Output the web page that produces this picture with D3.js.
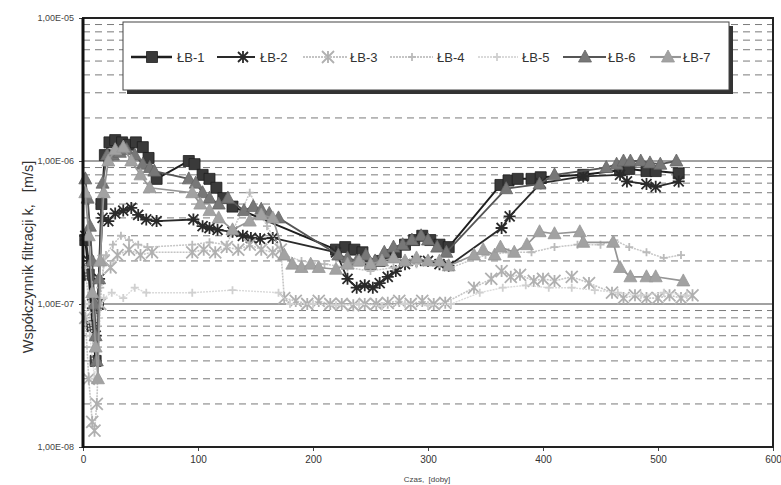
<!DOCTYPE html>
<html><head><meta charset="utf-8">
<script src="https://cdn.jsdelivr.net/npm/d3@7"></script>
<style>body{margin:0;background:#fff}svg{display:block}</style>
</head><body>
<svg id="c" width="781" height="485"></svg>
<script>
// ---- data ----
const xTicks = [0, 100, 200, 300, 400, 500, 600];
const yTicks = [1e-8, 1e-7, 1e-6, 1e-5];
const yTickLabels = ["1,00E-08", "1,00E-07", "1,00E-06", "1,00E-05"];
const seriesNames = ["ŁB-1", "ŁB-2", "ŁB-3", "ŁB-4", "ŁB-5", "ŁB-6", "ŁB-7"];

const LB1 = [[2,2.8e-7],[5,1.6e-7],[8,7e-8],[11,4e-8],[13,1e-7],[16,5e-7],[19,1.1e-6],[23,1.35e-6],[28,1.4e-6],[34,1.35e-6],[40,1.3e-6],[46,1.35e-6],[52,1.25e-6],[57,1.05e-6],[64,7.5e-7],[92,1.0e-6],[97,9.5e-7],[104,8e-7],[110,7.5e-7],[116,6.5e-7],[122,5.5e-7],[130,4.8e-7],[220,2.4e-7],[228,2.5e-7],[236,2.4e-7],[243,2.3e-7],[250,1.9e-7],[258,2.0e-7],[265,2.2e-7],[272,2.3e-7],[280,2.6e-7],[288,2.8e-7],[295,3.0e-7],[302,2.8e-7],[310,2.6e-7],[318,2.5e-7],[363,6.8e-7],[370,7.3e-7],[378,7.5e-7],[390,7.5e-7],[398,7.7e-7],[435,8.0e-7],[467,8.6e-7],[475,8.8e-7],[490,8.5e-7],[498,8.5e-7],[518,8.2e-7]];
const LB2 = [[2,3e-7],[5,2e-7],[8,1e-7],[11,6e-8],[14,1.5e-7],[17,4e-7],[22,3.8e-7],[28,4.3e-7],[35,4.5e-7],[42,4.7e-7],[48,4.2e-7],[55,3.9e-7],[64,3.8e-7],[96,3.9e-7],[104,3.5e-7],[110,3.4e-7],[117,3.3e-7],[130,3.2e-7],[139,3.0e-7],[146,2.9e-7],[154,2.85e-7],[165,2.9e-7],[220,2.3e-7],[230,1.5e-7],[238,1.3e-7],[245,1.35e-7],[252,1.3e-7],[258,1.4e-7],[265,1.55e-7],[272,1.7e-7],[280,1.9e-7],[290,2.0e-7],[300,2.0e-7],[310,1.9e-7],[318,1.85e-7],[364,3.4e-7],[371,4.1e-7],[398,7.0e-7],[435,7.8e-7],[467,8.0e-7],[473,7.2e-7],[490,6.9e-7],[498,6.6e-7],[518,7.2e-7]];
const LB3 = [[2,8e-8],[5,3e-8],[8,1.5e-8],[10,1.3e-8],[12,2e-8],[15,1e-7],[18,2e-7],[24,1.8e-7],[30,2.2e-7],[40,2.4e-7],[50,2.2e-7],[60,2.3e-7],[95,2.3e-7],[105,2.4e-7],[115,2.3e-7],[125,2.5e-7],[135,2.4e-7],[145,2.6e-7],[155,2.4e-7],[165,2.3e-7],[172,2.4e-7],[175,1.1e-7],[185,1.05e-7],[195,1.0e-7],[205,1.05e-7],[215,1.0e-7],[225,1.0e-7],[235,9.8e-8],[245,1.0e-7],[255,1.0e-7],[265,1.02e-7],[275,1.05e-7],[285,1.0e-7],[295,1.05e-7],[305,1.0e-7],[315,1.02e-7],[340,1.3e-7],[355,1.5e-7],[364,1.7e-7],[372,1.55e-7],[380,1.6e-7],[392,1.45e-7],[400,1.5e-7],[410,1.45e-7],[425,1.55e-7],[440,1.4e-7],[460,1.2e-7],[470,1.1e-7],[480,1.15e-7],[490,1.1e-7],[500,1.1e-7],[510,1.15e-7],[520,1.1e-7],[530,1.15e-7]];
const LB4 = [[2,1.8e-7],[5,1e-7],[9,5e-8],[12,8e-8],[15,1.3e-7],[20,2.2e-7],[26,2.6e-7],[33,3e-7],[40,2.8e-7],[48,2.6e-7],[56,2.5e-7],[95,2.6e-7],[110,2.7e-7],[125,2.6e-7],[145,6e-7],[160,3.5e-7],[175,2.2e-7],[190,2.0e-7],[210,1.9e-7],[230,1.8e-7],[250,1.7e-7],[270,1.8e-7],[290,1.9e-7],[310,1.9e-7],[320,1.8e-7],[350,2.2e-7],[370,2.3e-7],[390,2.3e-7],[410,2.5e-7],[430,2.6e-7],[450,2.6e-7],[462,2.8e-7],[475,2.5e-7],[490,2.3e-7],[505,2.1e-7],[520,2.2e-7]];
const LB5 = [[2,1e-7],[6,6e-8],[10,3e-8],[14,8e-8],[18,1.1e-7],[25,1.2e-7],[35,1.1e-7],[45,1.3e-7],[55,1.2e-7],[95,1.2e-7],[130,1.25e-7],[170,1.2e-7],[180,1.0e-7],[200,1.0e-7],[220,9.8e-8],[240,1.0e-7],[260,9.7e-8],[280,1.0e-7],[300,9.8e-8],[320,1.0e-7],[345,1.2e-7],[365,1.3e-7],[385,1.35e-7],[405,1.3e-7],[425,1.3e-7],[445,1.25e-7],[465,1.2e-7],[485,1.15e-7],[505,1.2e-7],[525,1.15e-7]];
const LB6 = [[2,7.5e-7],[4,5.5e-7],[6,3.5e-7],[8,2e-7],[10,1e-7],[11,6e-8],[12,4e-8],[14,1.5e-7],[17,7e-7],[21,1.1e-6],[26,1.1e-6],[32,1.15e-6],[38,1.2e-6],[45,1.1e-6],[52,9.5e-7],[58,9e-7],[62,8.5e-7],[92,7.5e-7],[98,7e-7],[104,6e-7],[110,5.5e-7],[118,5e-7],[126,5.5e-7],[140,4.5e-7],[148,4.8e-7],[155,4.6e-7],[162,4.3e-7],[170,4.0e-7],[222,2.2e-7],[230,2.1e-7],[238,2.0e-7],[246,2.2e-7],[254,2.0e-7],[262,2.3e-7],[270,2.5e-7],[278,2.6e-7],[286,2.8e-7],[294,3.0e-7],[300,2.8e-7],[308,2.5e-7],[316,2.3e-7],[368,6.4e-7],[397,6.9e-7],[410,8.0e-7],[455,9.0e-7],[464,9.5e-7],[470,1.0e-6],[476,1.0e-6],[485,1.0e-6],[493,9.7e-7],[502,9.5e-7],[516,1.0e-6]];
const LB7 = [[2,6e-7],[5,3e-7],[8,1.2e-7],[11,5e-8],[13,3e-8],[15,2e-7],[18,6e-7],[22,1.0e-6],[28,1.2e-6],[35,1.25e-6],[42,1.0e-6],[50,8e-7],[58,6.5e-7],[95,6e-7],[102,5e-7],[110,4.5e-7],[118,4e-7],[130,3.3e-7],[145,3.8e-7],[155,4.2e-7],[165,4.0e-7],[175,2.2e-7],[182,1.9e-7],[190,1.8e-7],[198,1.9e-7],[205,1.8e-7],[220,1.75e-7],[230,1.9e-7],[240,2.0e-7],[250,1.9e-7],[260,2.0e-7],[270,2.1e-7],[280,2.0e-7],[290,2.1e-7],[300,2.0e-7],[310,2.0e-7],[318,1.85e-7],[340,2.2e-7],[348,2.4e-7],[358,2.2e-7],[363,2.5e-7],[375,2.3e-7],[386,2.6e-7],[397,3.2e-7],[410,3.1e-7],[432,3.2e-7],[435,2.7e-7],[461,2.7e-7],[467,1.8e-7],[476,1.55e-7],[490,1.55e-7],[498,1.55e-7],[522,1.45e-7]];

// ---- layout & style ----
const X0 = 83, X1 = 773, Y0 = 447, Y1 = 18;
const svg = d3.select("#c");
const x = d3.scaleLinear().domain([0, 600]).range([X0, X1]);
const y = d3.scaleLog().domain([1e-8, 1e-5]).range([Y0, Y1]);
const font = "Liberation Sans, Arial, sans-serif";

const styles = [
  {line:"#1e1e1e", lw:2.0, fill:"#3a3a3a", stroke:"#1e1e1e", sym:"square", dash:null},
  {line:"#2a2a2a", lw:1.8, fill:"none", stroke:"#2a2a2a", sym:"aster", dash:null},
  {line:"#c4c4c4", lw:1.6, fill:"none", stroke:"#b0b0b0", sym:"x", dash:"2,1"},
  {line:"#c6c6c6", lw:1.5, fill:"none", stroke:"#bbbbbb", sym:"plus", dash:"2,1"},
  {line:"#dadada", lw:1.4, fill:"none", stroke:"#d0d0d0", sym:"plus", dash:"2,1"},
  {line:"#555555", lw:1.8, fill:"#777777", stroke:"#666666", sym:"tri", dash:null},
  {line:"#959595", lw:1.7, fill:"#a2a2a2", stroke:"#989898", sym:"tri", dash:null}
];
const seriesData = [LB1, LB2, LB3, LB4, LB5, LB6, LB7];

function symPath(type) {
  if (type === "square") return "M-5.5,-5.5H5.5V5.5H-5.5Z";
  if (type === "tri") return "M0,-7L6.5,5L-6.5,5Z";
  if (type === "aster") return "M-5,-5L5,5M-5,5L5,-5M0,-6V6M-6,0H6";
  if (type === "x") return "M-6,-6L6,6M-6,6L6,-6M0,-6V6";
  if (type === "plus") return "M-4,0H4M0,-4V4";
  return "";
}
function symStrokeW(type) { return (type === "square" || type === "tri") ? 0.8 : 1.8; }

// ---- grid ----
const grid = svg.append("g");
for (let e = -8; e < -5; e++) {
  for (let m = 2; m <= 9; m++) {
    const v = m * Math.pow(10, e);
    grid.append("line").attr("x1", X0).attr("x2", X1)
      .attr("y1", y(v)).attr("y2", y(v))
      .attr("stroke", "#7a7a7a").attr("stroke-width", 1)
      .attr("stroke-dasharray", "7,5");
  }
}
[1e-7, 1e-6].forEach(v => {
  grid.append("line").attr("x1", X0).attr("x2", X1)
    .attr("y1", y(v)).attr("y2", y(v))
    .attr("stroke", "#444").attr("stroke-width", 1);
});

// ---- axes ----
const yAxis = d3.axisLeft(y).tickValues(yTicks)
  .tickFormat((d, i) => yTickLabels[i]).tickSize(4);
const yg = svg.append("g").attr("transform", `translate(${X0},0)`).call(yAxis);
yg.select(".domain").remove();
yg.selectAll("text").attr("font-family", font).attr("font-size", 9).attr("fill", "#444").attr("dx", -2);
yg.selectAll("line").attr("stroke", "#444");

const xAxis = d3.axisBottom(x).tickValues(xTicks).tickSize(4).tickFormat(d3.format("d"));
const xg = svg.append("g").attr("transform", `translate(0,${Y0})`).call(xAxis);
xg.select(".domain").remove();
xg.selectAll("text").attr("font-family", font).attr("font-size", 10).attr("fill", "#333").attr("dy", "0.9em");
xg.selectAll("line").attr("stroke", "#444");

// ---- series ----
const lineGen = d3.line().x(d => x(d[0])).y(d => y(d[1]));
const plot = svg.append("g");
seriesData.forEach((data, i) => {
  const s = styles[i];
  const g = plot.append("g");
  g.append("path").attr("d", lineGen(data)).attr("fill", "none")
    .attr("stroke", s.line).attr("stroke-width", s.lw)
    .attr("stroke-dasharray", s.dash);
  g.selectAll("path.m").data(data).join("path").attr("class", "m")
    .attr("transform", d => `translate(${x(d[0])},${y(d[1])})`)
    .attr("d", symPath(s.sym))
    .attr("fill", s.fill).attr("stroke", s.stroke)
    .attr("stroke-width", symStrokeW(s.sym));
});

// ---- frame ----
svg.append("rect").attr("x", X0).attr("y", Y1).attr("width", X1 - X0).attr("height", Y0 - Y1)
  .attr("fill", "none").attr("stroke", "#222").attr("stroke-width", 2);
svg.append("line").attr("x1", X0).attr("x2", X0).attr("y1", Y1).attr("y2", Y0 + 1)
  .attr("stroke", "#111").attr("stroke-width", 3);

// ---- legend ----
const LX = 123, LY = 22, LW = 606, LH = 68;
svg.append("rect").attr("x", LX + 4).attr("y", LY + 4).attr("width", LW).attr("height", LH).attr("fill", "#333");
svg.append("rect").attr("x", LX).attr("y", LY).attr("width", LW).attr("height", LH)
  .attr("fill", "#fff").attr("stroke", "#444").attr("stroke-width", 1);
const legendPos = [
  {l0:131, l1:172, m:152, t:177},
  {l0:217, l1:255, m:243, t:260},
  {l0:303, l1:347, m:328, t:350},
  {l0:390, l1:433, m:412, t:437},
  {l0:478, l1:518, m:497, t:522},
  {l0:563, l1:606, m:585, t:608},
  {l0:650, l1:681, m:668, t:683}
];
const legY = 57;
seriesNames.forEach((name, i) => {
  const s = styles[i], p = legendPos[i];
  svg.append("line").attr("x1", p.l0).attr("x2", p.l1).attr("y1", legY).attr("y2", legY)
    .attr("stroke", s.line).attr("stroke-width", s.lw + 0.4).attr("stroke-dasharray", s.dash);
  svg.append("path").attr("transform", `translate(${p.m},${legY})`).attr("d", symPath(s.sym))
    .attr("fill", s.fill).attr("stroke", s.stroke)
    .attr("stroke-width", symStrokeW(s.sym));
  svg.append("text").attr("x", p.t).attr("y", legY).attr("dy", "0.36em")
    .attr("font-family", font).attr("font-size", 13).attr("fill", "#333").text(name);
});

// ---- titles ----
svg.append("text").attr("transform", `translate(33,257) rotate(-90)`)
  .attr("text-anchor", "middle").attr("font-family", font).attr("font-size", 14.5)
  .attr("fill", "#333").style("white-space", "pre")
  .text("Współczynnik filtracji k,   [m/s]");
svg.append("text").attr("x", 427).attr("y", 482)
  .attr("text-anchor", "middle").attr("font-family", font).attr("font-size", 8)
  .attr("fill", "#444").style("white-space", "pre").text("Czas,  [doby]");
</script>
</body></html>
